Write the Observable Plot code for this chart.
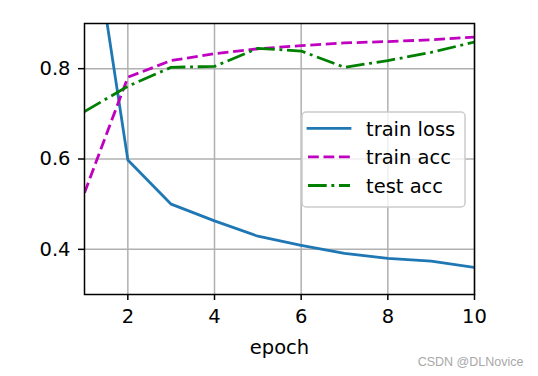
<!DOCTYPE html>
<html>
<head>
<meta charset="utf-8">
<script src="https://cdn.jsdelivr.net/npm/d3@7"></script>
<script src="https://cdn.jsdelivr.net/npm/@observablehq/plot@0.6"></script>
<style>
  html, body { margin: 0; padding: 0; background: white; }
  #chart { width: 538px; height: 376px; }
</style>
</head>
<body>
<div id="chart"></div>
<script>
const epochs = [1, 2, 3, 4, 5, 6, 7, 8, 9, 10];
const trainLoss = [1.23, 0.598, 0.500, 0.463, 0.429, 0.409, 0.391, 0.380, 0.374, 0.360];
const trainAcc = [0.525, 0.781, 0.818, 0.833, 0.844, 0.851, 0.857, 0.860, 0.864, 0.870];
const testAcc = [0.705, 0.761, 0.803, 0.805, 0.845, 0.839, 0.803, 0.818, 0.836, 0.859];
const seriesNames = ["train loss", "train acc", "test acc"];
const xTicks = [2, 4, 6, 8, 10];
const yTicks = [0.4, 0.6, 0.8];
const xLabel = "epoch";
const watermark = "CSDN @DLNovice";

const colors = ["#1f77b4", "#bf00bf", "#008000"];
const dashes = ["none", "10.8,4.7", "18.7,4.7,2.9,4.7"];
const seriesValues = [trainLoss, trainAcc, testAcc];

const lineMarks = seriesValues.map((vals, i) =>
  Plot.lineY(vals, {
    x: (d, j) => epochs[j],
    y: d => d,
    stroke: colors[i],
    strokeWidth: 2.8,
    strokeDasharray: dashes[i],
    strokeLinecap: i === 0 ? "square" : "butt",
    strokeLinejoin: "round",
    clip: true
  })
);

const chart = Plot.plot({
  width: 538,
  height: 376,
  marginLeft: 84,
  marginRight: 64,
  marginTop: 23,
  marginBottom: 82,
  style: {
    fontFamily: "'DejaVu Sans', sans-serif",
    fontSize: "19.5px",
    color: "black",
    background: "white"
  },
  x: { domain: [1, 10] },
  y: { domain: [0.3, 0.9] },
  marks: [
    Plot.gridX(xTicks, { stroke: "#b0b0b0", strokeOpacity: 1, strokeWidth: 1.5 }),
    Plot.gridY(yTicks, { stroke: "#b0b0b0", strokeOpacity: 1, strokeWidth: 1.5 }),
    ...lineMarks,
    Plot.frame({ stroke: "black", strokeWidth: 1.5 }),
    Plot.axisX({
      ticks: xTicks,
      tickSize: 6,
      tickPadding: 9,
      strokeWidth: 1.5,
      tickFormat: d3.format("d"),
      label: xLabel,
      labelAnchor: "center",
      labelArrow: "none",
      labelOffset: 59
    }),
    Plot.axisY({
      ticks: yTicks,
      tickSize: 6,
      tickPadding: 8,
      strokeWidth: 1.5,
      tickFormat: d3.format(".1f"),
      label: null
    }),
    Plot.text([watermark], {
      text: d => d,
      frameAnchor: "bottom-right",
      textAnchor: "end",
      lineAnchor: "bottom",
      dx: 49,
      dy: 71,
      fontSize: 12.5,
      fontFamily: "'Liberation Sans', Arial, sans-serif",
      fill: "#a8a8a8"
    })
  ]
});

document.getElementById("chart").appendChild(chart);

// Legend (matplotlib-style)
const svg = d3.select(chart);
const lg = svg.append("g").attr("class", "legend").attr("text-anchor", "start");
const box = { x: 302, y: 112, w: 163, h: 95 };
lg.append("rect")
  .attr("x", box.x).attr("y", box.y)
  .attr("width", box.w).attr("height", box.h)
  .attr("rx", 4).attr("ry", 4)
  .attr("fill", "white").attr("fill-opacity", 0.8)
  .attr("stroke", "#cccccc").attr("stroke-width", 1.5);
seriesNames.forEach((name, i) => {
  const base = 135.7 + i * 28.6;
  lg.append("line")
    .attr("x1", 308).attr("x2", 350)
    .attr("y1", base - 7.4).attr("y2", base - 7.4)
    .attr("stroke", colors[i])
    .attr("stroke-width", 2.8)
    .attr("stroke-dasharray", dashes[i])
    .attr("stroke-linecap", i === 0 ? "square" : "butt");
  lg.append("text")
    .attr("x", 366).attr("y", base)
    .attr("text-anchor", "start")
    .attr("font-family", "'DejaVu Sans', sans-serif")
    .attr("font-size", "19.5px")
    .attr("fill", "black")
    .text(name);
});
</script>
</body>
</html>
